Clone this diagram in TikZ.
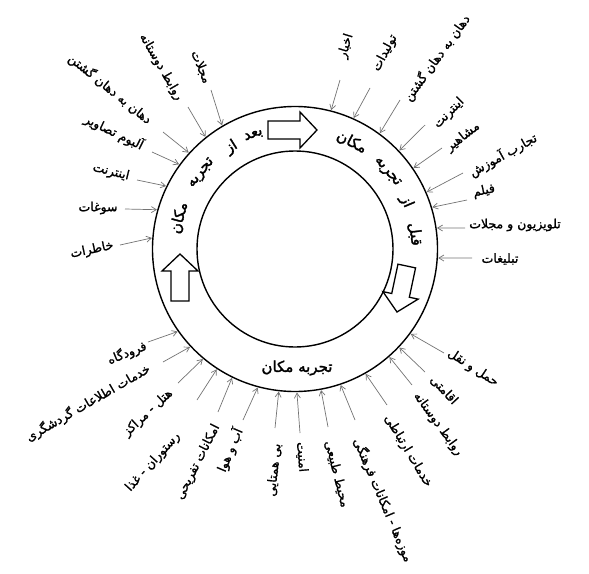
\documentclass[tikz,border=0pt]{standalone}
\usepackage{fontspec}
\usetikzlibrary{calc,arrows.meta}
\newfontfamily\fa[Script=Arabic,FakeBold=1.3]{DejaVu Sans}
\newfontfamily\fb[Script=Arabic,FakeBold=1.8]{DejaVu Sans}
\TeXXeTstate=1
\tikzset{
 lab/.style={inner sep=0pt, font=\fa\fontsize{12.5}{14}\selectfont},
 conn/.style={draw=black!55, line width=0.7pt, -{Straight Barb[length=5pt,width=6pt]}},
 ringline/.style={draw=black, line width=1.4pt},
 blk/.style={draw=black, line width=1.3pt, fill=white, line join=miter},
 rtxt/.style={inner sep=0pt, font=\fb\fontsize{15}{17}\selectfont},
}
% name, centre, rotation, text, tail, head (raw)
\newcommand\flab[6]{%
 \node[lab, rotate=#3] (#1) at (#2) {\beginR #4\endR};
 \coordinate (#1t) at (#5);
 \coordinate (#1h) at ($(C)!143.5pt!(#6)$);
 \draw[conn] (#1t) -- (#1h);
}
% name, angle, radius, text
\newcommand\rword[4]{%
 \node[rtxt, rotate=#2-90] (#1) at ($(C)+(-#2:#3)$) {\beginR #4\endR};
}
\newcommand\blkarrow[4]{% tip, rotation, body length, name
 \draw[blk, shift={(#1)}, rotate=#2] (0,0) -- (-17,-18) -- (-17,-9) -- (-#3,-9) -- (-#3,9) -- (-17,9) -- (-17,18) -- cycle;
}
\begin{document}
\begin{tikzpicture}[x=1pt,y=-1pt]
\useasboundingbox (0,0) rectangle (589,573);
\coordinate (C) at (295,249);
\draw[ringline] (C) circle[radius=142.5pt];
\draw[ringline] (C) circle[radius=98pt];

% block arrows
\blkarrow{317,130}{0}{49}{a1}
\blkarrow{397,312}{-102}{47}{a2}
\blkarrow{180,254}{90}{47}{a3}

% ring texts
\rword{w1}{110}{121}{بعد}
\rword{w2}{122}{120}{از}
\rword{w3}{141}{120}{تجربه}
\rword{w4}{165}{120}{مکان}
\rword{v1}{7}{121}{قبل}
\rword{v2}{23}{121}{از}
\rword{v3}{40}{120}{تجربه}
\rword{v4}{62}{121}{مکان}
\node[rtxt] (exp) at (297,368) {\beginR تجربه مکان\endR};

% top-left
\flab{l1}{201,67}{-68}{مجلات}{211,90}{220,122}
\flab{l2}{161,67}{-60}{\beginR روابط دوستانه\endR}{188,107}{204,135}
\flab{l3}{110,89}{-39}{\beginR دهان به دهان گشتن\endR}{163,132}{188,152}
\flab{l4}{114,132}{-26}{\beginR آلبوم تصاویر\endR}{152,152}{180,165}
\flab{l5}{111,172}{-14}{اینترنت}{137,180}{168,187}
\flab{l6}{98,208}{0}{سوغات}{125,209}{158,210}
\flab{l7}{92,250}{12}{خاطرات}{120,245}{153,238}

% top-right
\flab{r1}{346,46}{73}{اخبار}{340,80}{333,103}
\flab{r2}{385,53}{62}{تولیدات}{370,88}{355,115}
\flab{r3}{437,58}{54}{\beginR دهان به دهان گشتن\endR}{400,100}{380,133}
\flab{r4}{449,113}{45}{اینترنت}{425,125}{402,148}
\flab{r5}{463,137}{38}{مشاهیر}{442,148}{415,167}
\flab{r6}{503,155}{29}{\beginR تجارب آموزش\endR}{463,173}{427,192}
\flab{r7}{484,191}{12}{فیلم}{467,200}{433,207}
\flab{r8}{515,225}{0}{\beginR تلویزیون و مجلات\endR}{465,228}{437,228}
\flab{r9}{500,259}{0}{تبلیغات}{472,258}{438,258}

% bottom-right
\flab{b1}{473,368}{-33}{\beginR حمل و نقل\endR}{444,353}{415,337}
\flab{b2}{444,390}{-47}{اقامتی}{425,372}{402,350}
\flab{b3}{438,424}{-54}{\beginR روابط دوستانه\endR}{412,385}{392,360}
\flab{b4}{408,451}{-59}{\beginR خدمات ارتباطی\endR}{387,405}{368,378}
\flab{b5}{383,500}{-67}{\beginR موزه‌ها - امکانات فرهنگی\endR}{355,420}{343,392}
\flab{b6}{337,474}{-76}{\beginR محیط طبیعی\endR}{328,427}{322,395}
\flab{b7}{302,457}{-85}{امنیت}{300,433}{297,397}

% bottom-left
\flab{d1}{274,470}{84}{\beginR بی همتایی\endR}{275,428}{278,398}
\flab{d2}{230,450}{67}{\beginR آب و هوا\endR}{243,420}{257,390}
\flab{d3}{198,462}{63}{\beginR امکانات تفریحی\endR}{218,412}{230,382}
\flab{d4}{153,462}{48}{\beginR رستوران - غذا\endR}{197,400}{215,372}
\flab{d5}{148,413}{43}{\beginR هتل - مراکز\endR}{178,383}{202,360}
\flab{d6}{88,403}{30}{\beginR خدمات اطلاعات گردشگری\endR}{163,362}{190,347}
\flab{d7}{127,353}{22}{فرودگاه}{148,342}{177,332}
\end{tikzpicture}
\end{document}
